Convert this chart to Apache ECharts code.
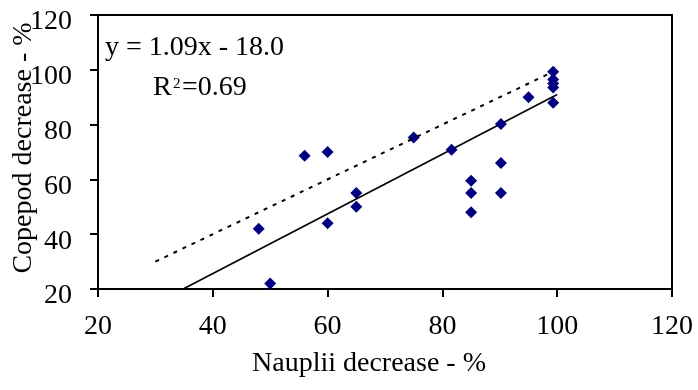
<!DOCTYPE html>
<html>
<head>
<meta charset="utf-8">
<script src="https://cdn.jsdelivr.net/npm/echarts@6/dist/echarts.min.js"></script>
<style>
html,body{margin:0;padding:0;background:#fff;}
#chart{width:698px;height:390px;}
</style>
</head>
<body>
<div id="chart"></div>
<script>
// Data
var naupliiDecrease = [48, 50, 56, 60, 60, 65, 65, 75, 81.6, 85, 85, 85, 90.2, 90.2, 90.2, 95, 99.3, 99.3, 99.3, 99.3, 99.3];
var copepodDecrease = [42, 22, 68.6, 70, 44, 55, 50, 75.3, 70.8, 59.5, 55, 48, 80.2, 66, 55, 90, 99.3, 96.5, 95, 93.5, 88];
var trendX = [35, 100];
var trendY = [20.2, 91];
var identityX = [30, 99];
var identityY = [30, 99];
var xTicks = [20, 40, 60, 80, 100, 120];
var yTicks = [20, 40, 60, 80, 100, 120];
var equationText = 'y = 1.09x - 18.0';
var r2Label = ['R', '2', '=0.69'];

function pairs(xs, ys){ return xs.map(function(x,i){ return [x, ys[i]]; }); }

var FONT = '"Liberation Serif", "Times New Roman", serif';
var chart = echarts.init(document.getElementById('chart'), null, {renderer:'canvas'});
chart.setOption({
  animation: false,
  backgroundColor: '#fff',
  grid: {left: 98, right: 26, top: 15, bottom: 101, containLabel: false, outerBoundsMode: 'none',
         show: true, borderColor: '#000', borderWidth: 2, backgroundColor: 'transparent'},
  xAxis: {
    type: 'value', min: xTicks[0], max: xTicks[xTicks.length-1], interval: xTicks[1]-xTicks[0],
    name: 'Nauplii decrease - %', nameLocation: 'middle', nameGap: 61, nameMoveOverlap: false,
    nameTextStyle: {fontFamily: FONT, fontSize: 28, color: '#000', padding: [0, 32, 0, 0]},
    axisLine: {show: true, lineStyle: {color: '#000', width: 2}},
    axisTick: {show: true, inside: false, length: 8, lineStyle: {color: '#000', width: 2}},
    axisLabel: {fontFamily: FONT, fontSize: 28, color: '#000', margin: 24},
    splitLine: {show: false}
  },
  yAxis: {
    type: 'value', min: yTicks[0], max: yTicks[yTicks.length-1], interval: yTicks[1]-yTicks[0],
    name: 'Copepod decrease - %', nameLocation: 'middle', nameGap: 60, nameRotate: 90, nameMoveOverlap: false,
    nameTextStyle: {fontFamily: FONT, fontSize: 28, color: '#000', padding: [0, 0, 0, 8]},
    axisLine: {show: true, lineStyle: {color: '#000', width: 2}},
    axisTick: {show: true, inside: false, length: 8, lineStyle: {color: '#000', width: 2}},
    axisLabel: {fontFamily: FONT, fontSize: 28, color: '#000', margin: 26,
                verticalAlign: 'top', lineHeight: 14},
    splitLine: {show: false}
  },
  series: [
    {type: 'scatter', data: pairs(naupliiDecrease, copepodDecrease), symbol: 'diamond',
     symbolSize: [12, 12], itemStyle: {color: '#000080', opacity: 1}, z: 3},
    {type: 'line', data: pairs(trendX, trendY), showSymbol: false, symbol: 'none',
     lineStyle: {color: '#000', width: 1.6, type: 'solid'}, z: 2},
    {type: 'line', data: pairs(identityX, identityY), showSymbol: false, symbol: 'none',
     lineStyle: {color: '#000', width: 2, type: [4, 6]}, z: 4}
  ],
  graphic: [
    {type: 'text', left: 105, top: 34, z: 10,
     style: {text: equationText, font: '28px ' + FONT, fill: '#000'}},
    {type: 'text', left: 153, top: 74, z: 10,
     style: {text: r2Label[0], font: '28px ' + FONT, fill: '#000'}},
    {type: 'text', left: 173, top: 77, z: 10,
     style: {text: r2Label[1], font: '15px ' + FONT, fill: '#000'}},
    {type: 'text', left: 182, top: 74, z: 10,
     style: {text: r2Label[2], font: '28px ' + FONT, fill: '#000'}}
  ]
});
</script>
</body>
</html>
